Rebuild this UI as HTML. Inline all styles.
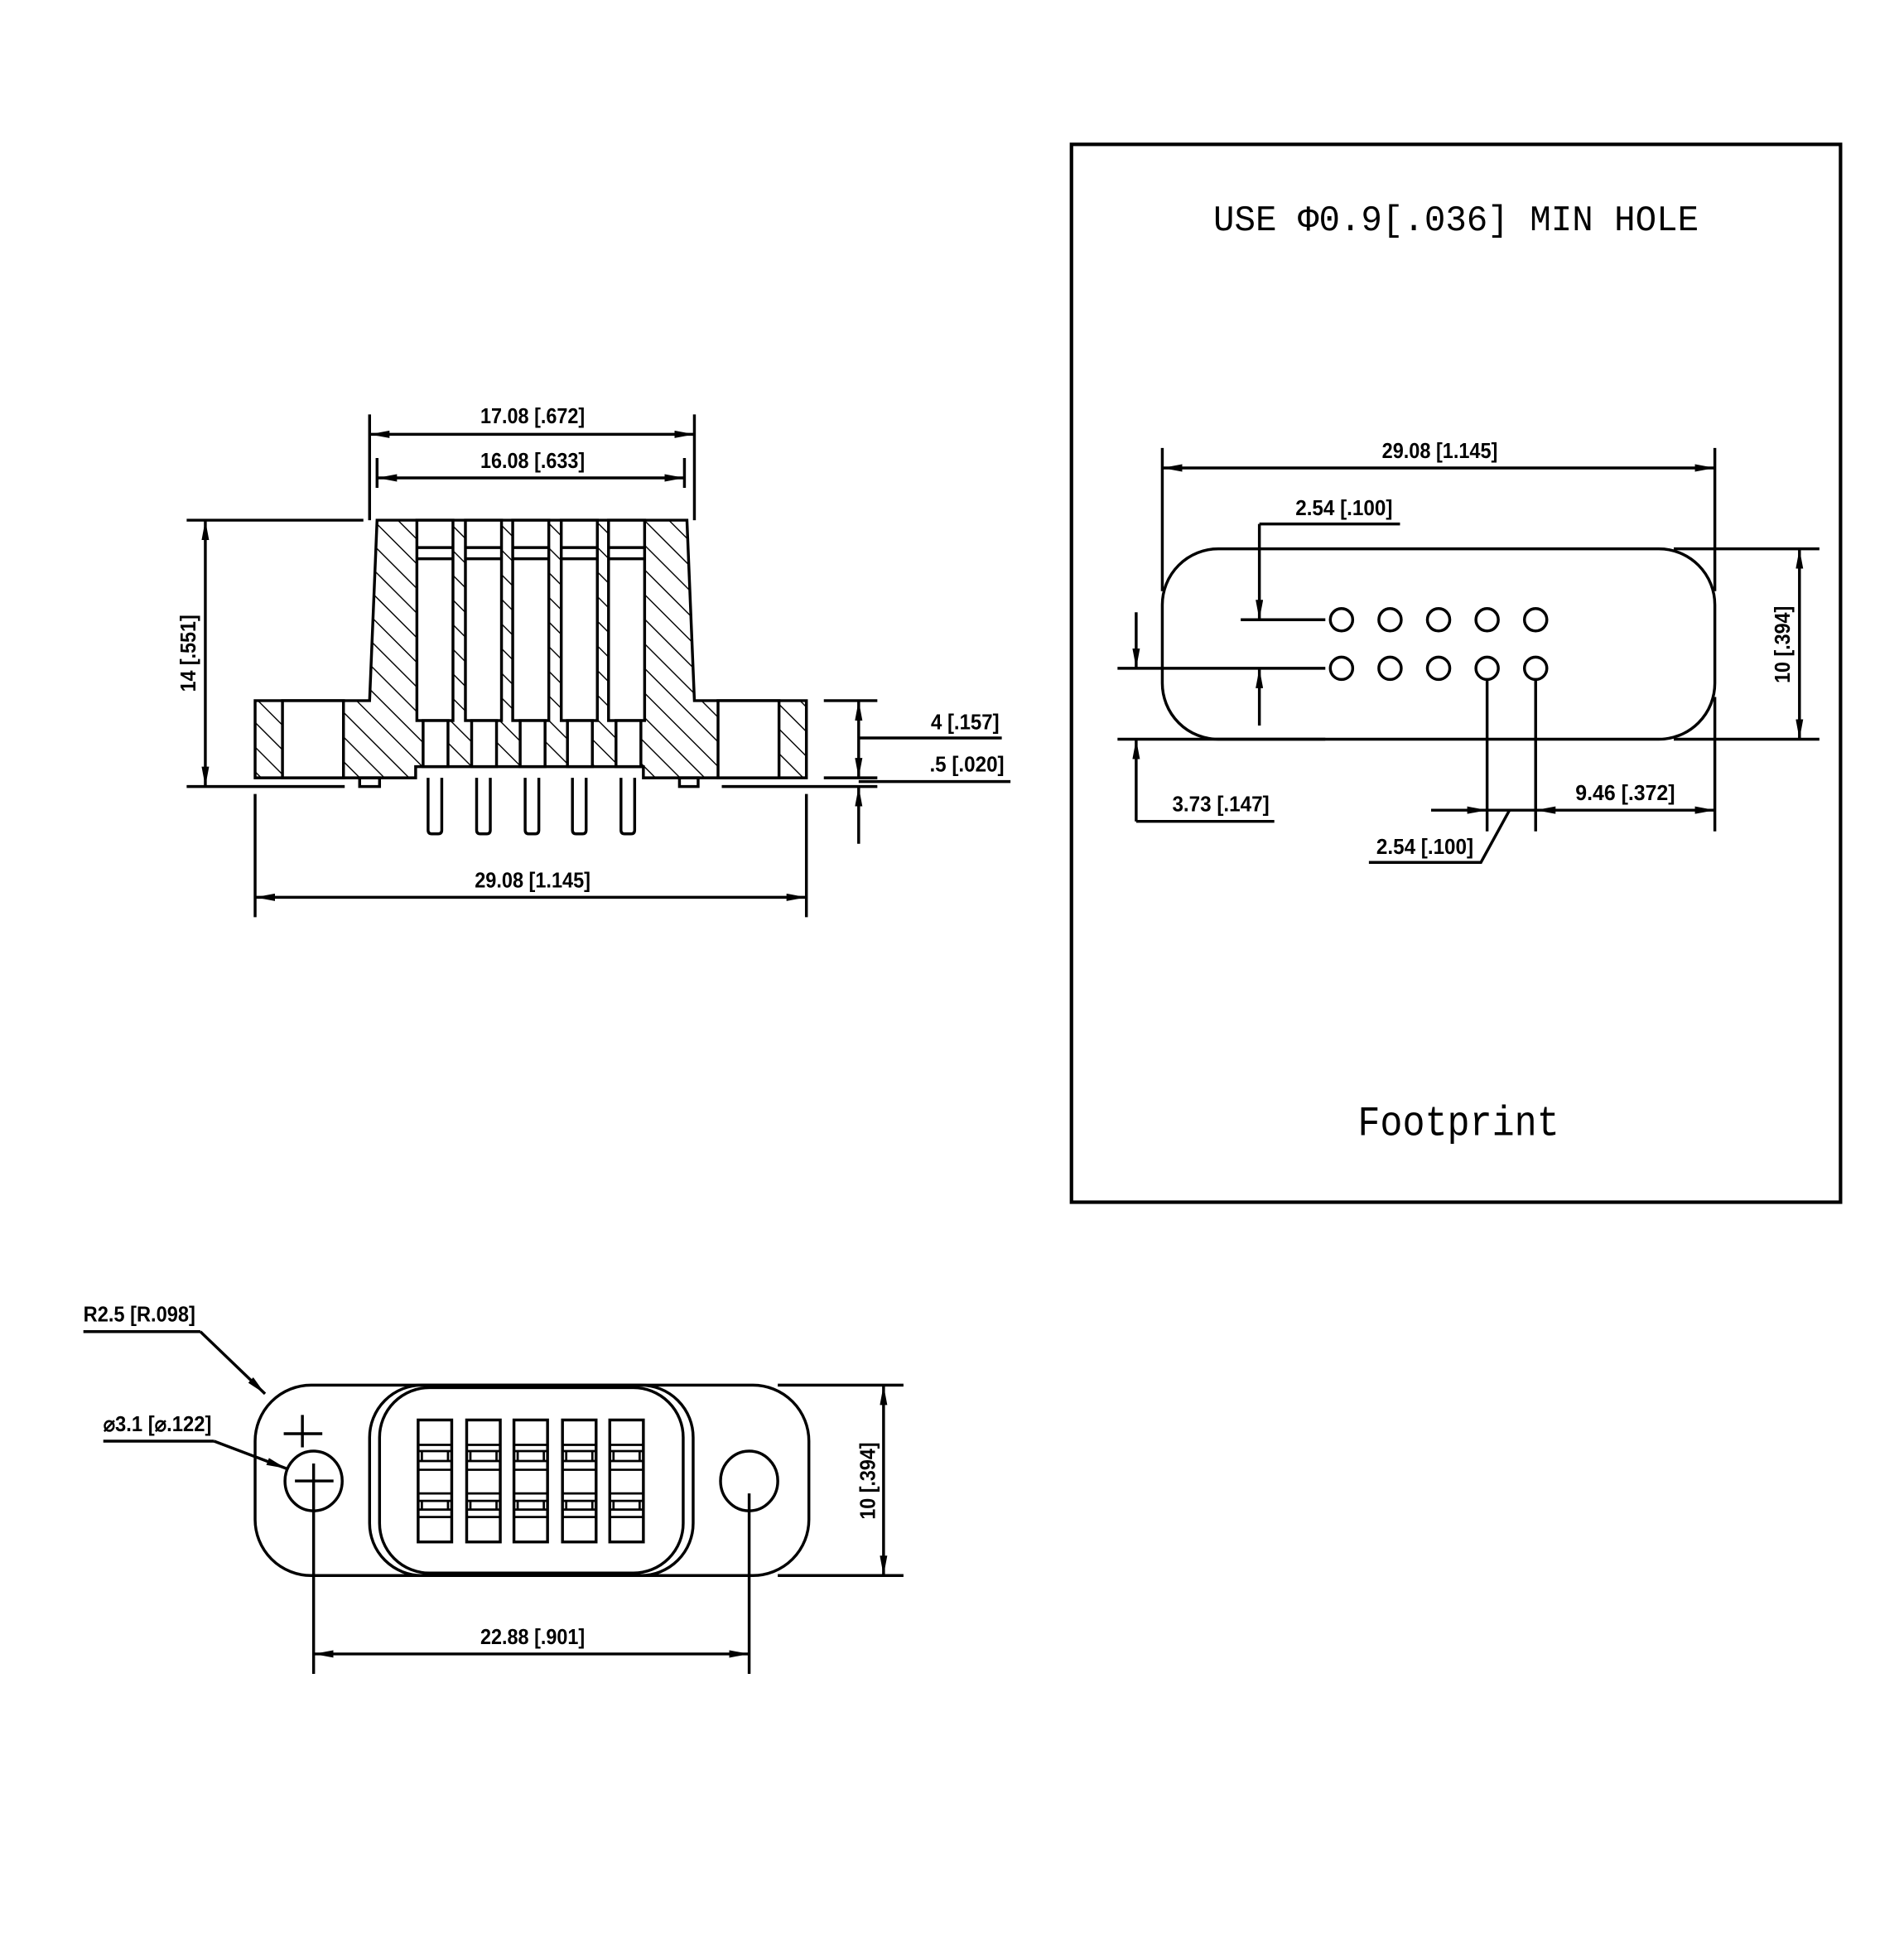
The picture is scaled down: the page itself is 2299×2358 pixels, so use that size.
<!DOCTYPE html>
<html><head><meta charset="utf-8"><style>
html,body{margin:0;padding:0;background:#fff;}
svg{display:block;}
.d{font-family:"Liberation Sans Narrow","Liberation Sans",sans-serif;font-size:17px;font-weight:bold;fill:#000;}
</style></head><body>
<svg width="2299" height="2358" viewBox="0 0 1530 1569.3" preserveAspectRatio="none" xmlns="http://www.w3.org/2000/svg">
<defs>
<marker id="a" viewBox="0 0 16 6" refX="16" refY="3" markerWidth="16" markerHeight="6" markerUnits="userSpaceOnUse" orient="auto-start-reverse"><path d="M0,0 L16,3 L0,6 z" fill="#000"/></marker>
<pattern id="h" patternUnits="userSpaceOnUse" width="14" height="14" patternTransform="rotate(-45)"><line x1="0" y1="0" x2="0" y2="14" stroke="#000" stroke-width="1.9"/></pattern>
</defs>
<rect width="1530" height="1570" fill="#fff"/>
<g stroke="#000" stroke-width="2.3" fill="none">

<!-- SIDE VIEW -->
<path d="M205,563 L297,563 L303,418 L552,418 L558,563 L648,563 L648,625 L517,625 L517,616 L334,616 L334,625 L205,625 Z" fill="url(#h)"/>
<rect x="227" y="563" width="49" height="62" fill="#fff"/>
<rect x="577" y="563" width="49" height="62" fill="#fff"/>
<g fill="#fff">
<rect x="335" y="418" width="29" height="161"/><rect x="374" y="418" width="29" height="161"/><rect x="412" y="418" width="29" height="161"/><rect x="451" y="418" width="29" height="161"/><rect x="489" y="418" width="29" height="161"/>
<rect x="340" y="579" width="20" height="37"/><rect x="379" y="579" width="20" height="37"/><rect x="418" y="579" width="20" height="37"/><rect x="456" y="579" width="20" height="37"/><rect x="495" y="579" width="20" height="37"/>
</g>
<path d="M335,440H364M335,449H364M374,440H403M374,449H403M412,440H441M412,449H441M451,440H480M451,449H480M489,440H518M489,449H518"/>
<path d="M344,625V667Q344,670 347,670H352Q355,670 355,667V625M383,625V667Q383,670 386,670H391Q394,670 394,667V625M422,625V667Q422,670 425,670H430Q433,670 433,667V625M460,625V667Q460,670 463,670H468Q471,670 471,667V625M499,625V667Q499,670 502,670H507Q510,670 510,667V625"/>
<rect x="289" y="625" width="16" height="7"/><rect x="546" y="625" width="15" height="7"/>
<!-- dims side -->
<path d="M297,333V418M558,333V418M303,368V392M550,368V392"/>
<line x1="297" y1="349" x2="558" y2="349" marker-start="url(#a)" marker-end="url(#a)"/>
<line x1="303" y1="384" x2="550" y2="384" marker-start="url(#a)" marker-end="url(#a)"/>
<path d="M150,418H292M150,632H277M580,632H705M662,563H705M662,625H705M690,593H805M690,628H812"/>
<line x1="165" y1="418" x2="165" y2="632" marker-start="url(#a)" marker-end="url(#a)"/>
<line x1="690" y1="593" x2="690" y2="563" marker-end="url(#a)"/>
<line x1="690" y1="593" x2="690" y2="625" marker-end="url(#a)"/>
<line x1="690" y1="678" x2="690" y2="632" marker-end="url(#a)"/>
<path d="M205,638V737M648,638V737"/>
<line x1="205" y1="721" x2="648" y2="721" marker-start="url(#a)" marker-end="url(#a)"/>

<!-- FOOTPRINT BOX -->
<rect x="861" y="116" width="618" height="850" stroke-width="2.8"/>
<rect x="934" y="441" width="444" height="153" rx="45" ry="45"/>
<g>
<circle cx="1078" cy="498" r="9"/><circle cx="1117" cy="498" r="9"/><circle cx="1156" cy="498" r="9"/><circle cx="1195" cy="498" r="9"/><circle cx="1234" cy="498" r="9"/>
<circle cx="1078" cy="537" r="9"/><circle cx="1117" cy="537" r="9"/><circle cx="1156" cy="537" r="9"/><circle cx="1195" cy="537" r="9"/><circle cx="1234" cy="537" r="9"/>
</g>
<path d="M934,360V475M1378,360V475M1378,560V668M1345,441H1462M898,594H1065M1345,594H1462M997,498H1065M898,537H1065M1012,421H1125M1195,547V668M1234,547V668M913,660H1024M1100,693H1190L1213,651"/>
<line x1="934" y1="376" x2="1378" y2="376" marker-start="url(#a)" marker-end="url(#a)"/>
<line x1="1446" y1="441" x2="1446" y2="594" marker-start="url(#a)" marker-end="url(#a)"/>
<line x1="1012" y1="421" x2="1012" y2="498" marker-end="url(#a)"/>
<line x1="1012" y1="583" x2="1012" y2="537" marker-end="url(#a)"/>
<line x1="913" y1="492" x2="913" y2="537" marker-end="url(#a)"/>
<line x1="913" y1="660" x2="913" y2="594" marker-end="url(#a)"/>
<line x1="1150" y1="651" x2="1195" y2="651" marker-end="url(#a)"/>
<line x1="1195" y1="651" x2="1234" y2="651"/>
<line x1="1234" y1="651" x2="1378" y2="651" marker-start="url(#a)" marker-end="url(#a)"/>

<!-- FRONT VIEW -->
<rect x="205" y="1113" width="445" height="153" rx="45" ry="45"/>
<rect x="297" y="1113" width="260" height="153" rx="42" ry="42"/>
<rect x="305" y="1115" width="244" height="149" rx="40" ry="40"/>
<g>
<rect x="336" y="1141" width="27" height="98"/><rect x="375" y="1141" width="27" height="98"/><rect x="413" y="1141" width="27" height="98"/><rect x="452" y="1141" width="27" height="98"/><rect x="490" y="1141" width="27" height="98"/>
</g>
<g stroke-width="1.8">
<path d="M336,1161H363M336,1166H363M336,1174H363M336,1181H363M336,1200H363M336,1206H363M336,1213H363M336,1219H363M339,1166V1174M360,1166V1174M339,1206V1213M360,1206V1213"/>
<path d="M375,1161H402M375,1166H402M375,1174H402M375,1181H402M375,1200H402M375,1206H402M375,1213H402M375,1219H402M378,1166V1174M399,1166V1174M378,1206V1213M399,1206V1213"/>
<path d="M413,1161H440M413,1166H440M413,1174H440M413,1181H440M413,1200H440M413,1206H440M413,1213H440M413,1219H440M416,1166V1174M437,1166V1174M416,1206V1213M437,1206V1213"/>
<path d="M452,1161H479M452,1166H479M452,1174H479M452,1181H479M452,1200H479M452,1206H479M452,1213H479M452,1219H479M455,1166V1174M476,1166V1174M455,1206V1213M476,1206V1213"/>
<path d="M490,1161H517M490,1166H517M490,1174H517M490,1181H517M490,1200H517M490,1206H517M490,1213H517M490,1219H517M493,1166V1174M514,1166V1174M493,1206V1213M514,1206V1213"/>
</g>
<ellipse cx="252" cy="1190" rx="23" ry="24"/>
<ellipse cx="602" cy="1190" rx="23" ry="24"/>
<path d="M237,1190H268M252,1176V1345M228,1152H259M243,1137V1163M602,1200V1345M625,1113H726M625,1266H726"/>
<line x1="252" y1="1329" x2="602" y2="1329" marker-start="url(#a)" marker-end="url(#a)"/>
<line x1="710" y1="1113" x2="710" y2="1266" marker-start="url(#a)" marker-end="url(#a)"/>
<path d="M67,1070H161"/>
<line x1="161" y1="1070" x2="213" y2="1120" marker-end="url(#a)"/>
<path d="M83,1158H172"/>
<line x1="172" y1="1158" x2="230" y2="1180" marker-end="url(#a)"/>
</g>

<!-- TEXT -->
<g class="d">
<text x="428" y="340" text-anchor="middle" textLength="84" lengthAdjust="spacingAndGlyphs">17.08 [.672]</text>
<text x="428" y="376" text-anchor="middle" textLength="84" lengthAdjust="spacingAndGlyphs">16.08 [.633]</text>
<text transform="translate(157,525) rotate(-90)" text-anchor="middle" textLength="62" lengthAdjust="spacingAndGlyphs">14 [.551]</text>
<text x="748" y="586" textLength="55" lengthAdjust="spacingAndGlyphs">4 [.157]</text>
<text x="747" y="620" textLength="60" lengthAdjust="spacingAndGlyphs">.5 [.020]</text>
<text x="428" y="713" text-anchor="middle" textLength="93" lengthAdjust="spacingAndGlyphs">29.08 [1.145]</text>
<text x="1157" y="368" text-anchor="middle" textLength="93" lengthAdjust="spacingAndGlyphs">29.08 [1.145]</text>
<text x="1080" y="414" text-anchor="middle" textLength="78" lengthAdjust="spacingAndGlyphs">2.54 [.100]</text>
<text transform="translate(1438,518) rotate(-90)" text-anchor="middle" textLength="62" lengthAdjust="spacingAndGlyphs">10 [.394]</text>
<text x="981" y="652" text-anchor="middle" textLength="78" lengthAdjust="spacingAndGlyphs">3.73 [.147]</text>
<text x="1306" y="643" text-anchor="middle" textLength="80" lengthAdjust="spacingAndGlyphs">9.46 [.372]</text>
<text x="1145" y="686" text-anchor="middle" textLength="78" lengthAdjust="spacingAndGlyphs">2.54 [.100]</text>
<text x="67" y="1062" textLength="90" lengthAdjust="spacingAndGlyphs">R2.5 [R.098]</text>
<text x="83" y="1150" textLength="87" lengthAdjust="spacingAndGlyphs">⌀3.1 [⌀.122]</text>
<text x="428" y="1321" text-anchor="middle" textLength="84" lengthAdjust="spacingAndGlyphs">22.88 [.901]</text>
<text transform="translate(703,1190) rotate(-90)" text-anchor="middle" textLength="62" lengthAdjust="spacingAndGlyphs">10 [.394]</text>
</g>
<text x="1170" y="185" text-anchor="middle" font-family="Liberation Mono, monospace" font-size="29" textLength="390" lengthAdjust="spacingAndGlyphs">USE Φ0.9[.036] MIN HOLE</text>
<text x="1172" y="912" text-anchor="middle" font-family="Liberation Mono, monospace" font-size="34" textLength="162" lengthAdjust="spacingAndGlyphs">Footprint</text>
</svg>
</body></html>
